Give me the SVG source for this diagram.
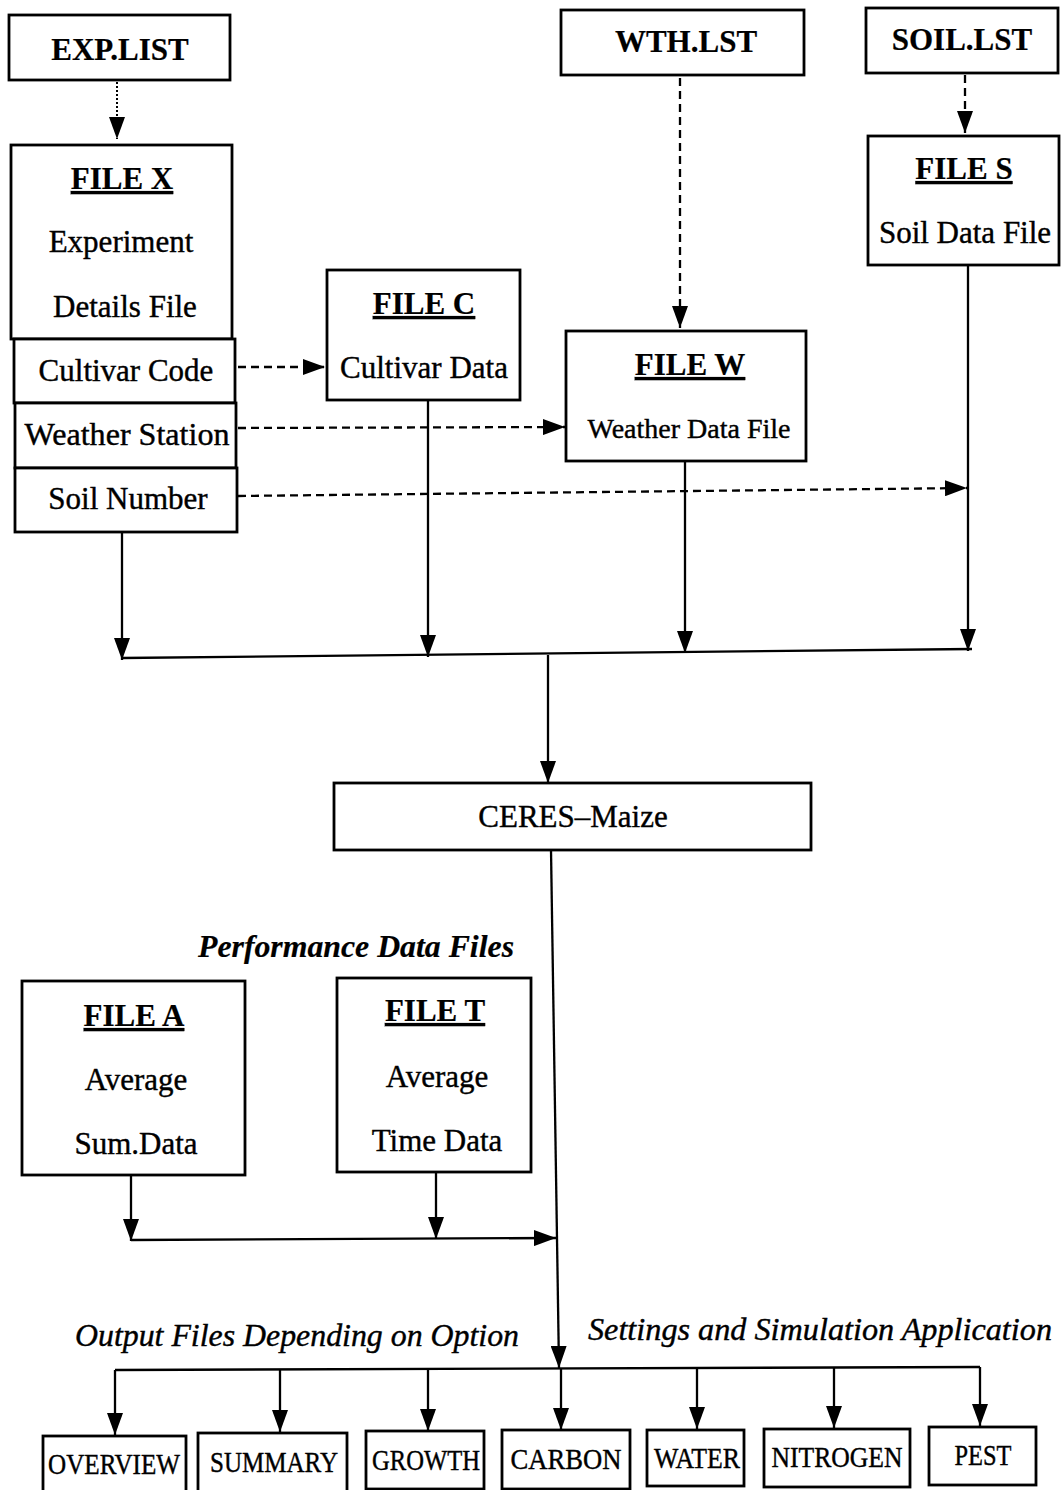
<svg xmlns="http://www.w3.org/2000/svg" width="1064" height="1490" viewBox="0 0 1064 1490">
<defs>
<marker id="ah" viewBox="0 0 22 16" refX="22" refY="8" markerWidth="22" markerHeight="16" markerUnits="userSpaceOnUse" orient="auto">
<path d="M0,0 L22,8 L0,16 z" fill="#000"/>
</marker>
<style>
.box{fill:#fff;stroke:#000;stroke-width:2.8}
.t{font-family:"Liberation Serif","Times New Roman",serif;fill:#000;text-anchor:middle;stroke:#000;stroke-width:0.4}
.b{font-weight:bold;stroke-width:0.2}
.u{text-decoration:underline}
.r{font-size:31px}
.s{font-size:28px}
.o{font-size:29px}
.i{font-style:italic;text-anchor:start;font-size:32px}
.ln{fill:none;stroke:#000;stroke-width:2.3}
.dash{fill:none;stroke:#000;stroke-width:2.3;stroke-dasharray:8 5}
.dot{fill:none;stroke:#000;stroke-width:2;stroke-dasharray:2 2}
</style>
</defs>
<rect width="1064" height="1490" fill="#fff"/>

<g id="connectors">
<line class="dot" x1="117" y1="82" x2="117" y2="139" marker-end="url(#ah)"/>
<line class="dash" x1="680" y1="78" x2="680" y2="328" marker-end="url(#ah)"/>
<line class="dash" x1="965" y1="75" x2="965" y2="133" marker-end="url(#ah)"/>
<line class="dash" x1="238" y1="367" x2="325" y2="367" marker-end="url(#ah)"/>
<line class="dash" x1="238" y1="428" x2="565" y2="427" marker-end="url(#ah)"/>
<line class="dash" x1="238" y1="496" x2="967" y2="488" marker-end="url(#ah)"/>
<line class="ln" x1="122" y1="532" x2="122" y2="660" marker-end="url(#ah)"/>
<line class="ln" x1="428" y1="400" x2="428" y2="657" marker-end="url(#ah)"/>
<line class="ln" x1="685" y1="460" x2="685" y2="653" marker-end="url(#ah)"/>
<line class="ln" x1="968" y1="264" x2="968" y2="651" marker-end="url(#ah)"/>
<line class="ln" x1="122" y1="658" x2="972" y2="649"/>
<line class="ln" x1="548" y1="655" x2="548" y2="783" marker-end="url(#ah)"/>
<line class="ln" x1="551" y1="850" x2="559" y2="1368" marker-end="url(#ah)"/>
<line class="ln" x1="131" y1="1175" x2="131" y2="1241" marker-end="url(#ah)"/>
<line class="ln" x1="436" y1="1172" x2="436" y2="1239" marker-end="url(#ah)"/>
<line class="ln" x1="131" y1="1240" x2="556" y2="1238" marker-end="url(#ah)"/>
<line class="ln" x1="115" y1="1370" x2="980" y2="1367"/>
<line class="ln" x1="115" y1="1370" x2="115" y2="1435" marker-end="url(#ah)"/>
<line class="ln" x1="280" y1="1369" x2="280" y2="1432" marker-end="url(#ah)"/>
<line class="ln" x1="428" y1="1369" x2="428" y2="1431" marker-end="url(#ah)"/>
<line class="ln" x1="561" y1="1369" x2="561" y2="1430" marker-end="url(#ah)"/>
<line class="ln" x1="697" y1="1368" x2="697" y2="1429" marker-end="url(#ah)"/>
<line class="ln" x1="834" y1="1368" x2="834" y2="1428" marker-end="url(#ah)"/>
<line class="ln" x1="980" y1="1367" x2="980" y2="1426" marker-end="url(#ah)"/>
</g>

<g id="exp-list">
<rect class="box" x="9" y="15" width="221" height="65"/>
<text class="t b r" x="120" y="60">EXP.LIST</text>
</g>
<g id="wth-lst">
<rect class="box" x="561" y="10" width="243" height="65"/>
<text class="t b r" x="686" y="52">WTH.LST</text>
</g>
<g id="soil-lst">
<rect class="box" x="866" y="8" width="192" height="65"/>
<text class="t b r" x="962" y="50">SOIL.LST</text>
</g>

<g id="file-x">
<rect class="box" x="11" y="145" width="221" height="194"/>
<text class="t b u r" x="122" y="189">FILE X</text>
<text class="t r" x="121" y="252">Experiment</text>
<text class="t r" x="125" y="317">Details File</text>
</g>
<g id="cultivar-code">
<rect class="box" x="14" y="339" width="221" height="64"/>
<text class="t r" x="126" y="381">Cultivar Code</text>
</g>
<g id="weather-station">
<rect class="box" x="15" y="403" width="221" height="65"/>
<text class="t r" x="127" y="445" textLength="205" lengthAdjust="spacingAndGlyphs">Weather Station</text>
</g>
<g id="soil-number">
<rect class="box" x="15" y="468" width="222" height="64"/>
<text class="t r" x="128" y="509">Soil Number</text>
</g>

<g id="file-c">
<rect class="box" x="327" y="270" width="193" height="130"/>
<text class="t b u r" x="424" y="314">FILE C</text>
<text class="t r" x="424" y="378">Cultivar Data</text>
</g>
<g id="file-w">
<rect class="box" x="566" y="331" width="240" height="130"/>
<text class="t b u r" x="690" y="375">FILE W</text>
<text class="t s" x="689" y="438">Weather Data File</text>
</g>
<g id="file-s">
<rect class="box" x="868" y="136" width="191" height="129"/>
<text class="t b u r" x="964" y="179">FILE S</text>
<text class="t r" x="965" y="243">Soil Data File</text>
</g>

<g id="ceres-maize">
<rect class="box" x="334" y="783" width="477" height="67"/>
<text class="t r" x="573" y="827">CERES–Maize</text>
</g>

<text class="t b i" x="198" y="957" textLength="316" lengthAdjust="spacingAndGlyphs">Performance Data Files</text>

<g id="file-a">
<rect class="box" x="22" y="981" width="223" height="194"/>
<text class="t b u r" x="134" y="1026">FILE A</text>
<text class="t r" x="136" y="1090">Average</text>
<text class="t r" x="136" y="1154">Sum.Data</text>
</g>
<g id="file-t">
<rect class="box" x="337" y="978" width="194" height="194"/>
<text class="t b u r" x="435" y="1021">FILE T</text>
<text class="t r" x="437" y="1087">Average</text>
<text class="t r" x="437" y="1151">Time Data</text>
</g>

<text class="t i" x="75" y="1346" textLength="444" lengthAdjust="spacingAndGlyphs">Output Files Depending on Option</text>
<text class="t i" x="588" y="1340" textLength="464" lengthAdjust="spacingAndGlyphs">Settings and Simulation Application</text>

<g id="overview">
<rect class="box" x="43" y="1436" width="143" height="60"/>
<text class="t o" x="114" y="1474" textLength="132" lengthAdjust="spacingAndGlyphs">OVERVIEW</text>
</g>
<g id="summary">
<rect class="box" x="198" y="1433" width="149" height="62"/>
<text class="t o" x="274" y="1472" textLength="128" lengthAdjust="spacingAndGlyphs">SUMMARY</text>
</g>
<g id="growth">
<rect class="box" x="366" y="1431" width="118" height="58"/>
<text class="t o" x="426" y="1470" textLength="108" lengthAdjust="spacingAndGlyphs">GROWTH</text>
</g>
<g id="carbon">
<rect class="box" x="502" y="1430" width="128" height="59"/>
<text class="t o" x="566" y="1469" textLength="111" lengthAdjust="spacingAndGlyphs">CARBON</text>
</g>
<g id="water">
<rect class="box" x="647" y="1430" width="97" height="56"/>
<text class="t o" x="697" y="1468" textLength="86" lengthAdjust="spacingAndGlyphs">WATER</text>
</g>
<g id="nitrogen">
<rect class="box" x="764" y="1429" width="146" height="58"/>
<text class="t o" x="837" y="1467" textLength="131" lengthAdjust="spacingAndGlyphs">NITROGEN</text>
</g>
<g id="pest">
<rect class="box" x="929" y="1427" width="107" height="58"/>
<text class="t o" x="983" y="1465" textLength="57" lengthAdjust="spacingAndGlyphs">PEST</text>
</g>
</svg>
